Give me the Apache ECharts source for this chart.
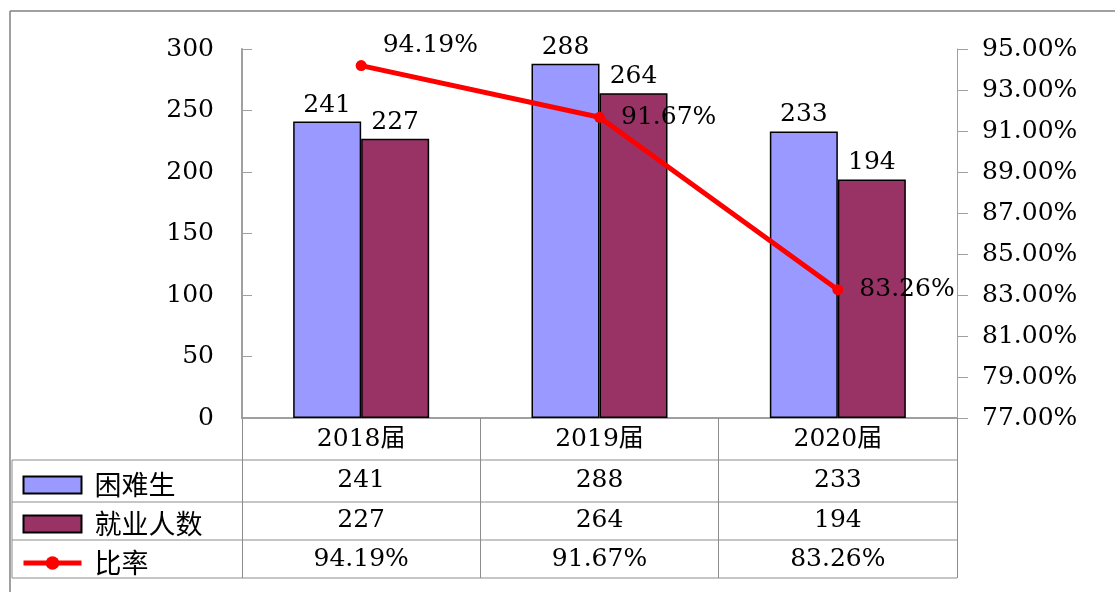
<!DOCTYPE html>
<html>
<head>
<meta charset="utf-8">
<script src="https://cdn.jsdelivr.net/npm/echarts@6/dist/echarts.min.js"></script>
<style>
	html, body { margin: 0; padding: 0; background: #fff; }
	#main { width: 1115px; height: 592px; }
</style>
</head>
<body>
<div id="main"></div>
<script>
/*类别*/
var years = ['2018届', '2019届', '2020届'];
/*困难生人数*/
var hardArr = [241, 288, 233];
/*就业人数*/
var jobArr = [227, 264, 194];
/*比率(%)*/
var rateArr = [94.19, 91.67, 83.26];
/*右轴刻度*/
var rateTicks = [77, 79, 81, 83, 85, 87, 89, 91, 93, 95];

var numFont = '"DejaVu Serif", "Noto Sans CJK SC", serif';
var cjkFont = '"Noto Sans CJK SC", sans-serif';
var gridLine = '#8c8c8c';

var myChart = echarts.init(document.getElementById('main'));

// 第一个点的标签在右上方
var rateData = [];
for(var i = 0; i < rateArr.length; i++) {
	var item = { value: rateArr[i] };
	if(i == 0) {
		item.label = { offset: [0, -20] };
	}
	rateData.push(item);
}

var option = {
	animation: false,
	backgroundColor: '#fff',
	grid: {
		left: 242,
		right: 158,
		top: 49,
		bottom: 174
	},
	legend: {
		orient: 'vertical',
		left: 21,
		top: 470,
		padding: 0,
		itemWidth: 58,
		itemHeight: 17,
		itemGap: 9,
		lineStyle: { width: 5 },
		textStyle: {
			fontFamily: cjkFont,
			fontSize: 27,
			lineHeight: 30,
			color: '#000',
			padding: [0, 0, 0, 8]
		},
		data: [
			{ name: '困难生', icon: 'rect' },
			{ name: '就业人数', icon: 'rect' },
			{ name: '比率' }
		]
	},
	xAxis: {
		type: 'category',
		data: years,
		axisLine: { lineStyle: { color: '#a0a0a0', width: 2 } },
		axisTick: {
			show: true,
			length: 160,
			lineStyle: { color: gridLine, width: 1 }
		},
		axisLabel: {
			margin: 0,
			formatter: function(val, idx) {
				return '{c|' + val + '}\n{a|' + hardArr[idx] + '}\n{b|' + jobArr[idx] + '}\n{d|' + rateArr[idx].toFixed(2) + '%}';
			},
			rich: {
				c: { fontFamily: numFont, fontSize: 25, lineHeight: 42, color: '#000' },
				a: { fontFamily: numFont, fontSize: 25, lineHeight: 40, color: '#000' },
				b: { fontFamily: numFont, fontSize: 25, lineHeight: 40, color: '#000' },
				d: { fontFamily: numFont, fontSize: 25, lineHeight: 38, color: '#000' }
			}
		}
	},
	yAxis: [{
		type: 'value',
		min: 0,
		max: 300,
		interval: 50,
		axisLine: { show: true, lineStyle: { color: '#a0a0a0', width: 2 } },
		axisTick: { show: true, inside: true, length: 10, lineStyle: { color: '#a0a0a0' } },
		axisLabel: { margin: 28, fontFamily: numFont, fontSize: 25, color: '#000' },
		splitLine: { show: false }
	}, {
		type: 'value',
		min: 77,
		max: 95,
		position: 'right',
		axisLine: { show: true, lineStyle: { color: '#a0a0a0', width: 1 } },
		axisTick: { show: true, length: 11, customValues: rateTicks, lineStyle: { color: '#a0a0a0' } },
		axisLabel: {
			margin: 25,
			customValues: rateTicks,
			fontFamily: numFont,
			fontSize: 25,
			color: '#000',
			formatter: function(v) {
				return v.toFixed(2) + '%';
			}
		},
		splitLine: { show: false }
	}],
	series: [{
		name: '困难生',
		type: 'bar',
		data: hardArr,
		barWidth: 68,
		barGap: '0%',
		itemStyle: { color: '#9999ff', borderColor: '#000', borderWidth: 1.5 },
		label: {
			show: true,
			position: 'top',
			distance: 4,
			fontFamily: numFont,
			fontSize: 25,
			color: '#000'
		}
	}, {
		name: '就业人数',
		type: 'bar',
		data: jobArr,
		barWidth: 68,
		barGap: '0%',
		itemStyle: { color: '#993366', borderColor: '#000', borderWidth: 1.5 },
		label: {
			show: true,
			position: 'top',
			distance: 4,
			fontFamily: numFont,
			fontSize: 25,
			color: '#000'
		}
	}, {
		name: '比率',
		type: 'line',
		yAxisIndex: 1,
		data: rateData,
		symbol: 'circle',
		symbolSize: 11,
		lineStyle: { color: '#ff0000', width: 5 },
		itemStyle: { color: '#ff0000' },
		label: {
			show: true,
			position: 'right',
			distance: 16,
			fontFamily: numFont,
			fontSize: 25,
			color: '#000',
			formatter: function(p) {
				return p.value.toFixed(2) + '%';
			}
		}
	}],
	/*外框与数据表线条*/
	graphic: [
		{ type: 'line', shape: { x1: 10, y1: 11, x2: 1115, y2: 11 }, style: { stroke: '#808080', lineWidth: 1.5 } },
		{ type: 'line', shape: { x1: 10, y1: 11, x2: 10, y2: 592 }, style: { stroke: '#808080', lineWidth: 1.5 } },
		{ type: 'line', shape: { x1: 12, y1: 460, x2: 957, y2: 460 }, style: { stroke: gridLine, lineWidth: 1 } },
		{ type: 'line', shape: { x1: 12, y1: 502, x2: 957, y2: 502 }, style: { stroke: gridLine, lineWidth: 1 } },
		{ type: 'line', shape: { x1: 12, y1: 540, x2: 957, y2: 540 }, style: { stroke: gridLine, lineWidth: 1 } },
		{ type: 'line', shape: { x1: 12, y1: 578, x2: 957, y2: 578 }, style: { stroke: gridLine, lineWidth: 1 } },
		{ type: 'line', shape: { x1: 12, y1: 460, x2: 12, y2: 578 }, style: { stroke: gridLine, lineWidth: 1 } }
	]
};
myChart.setOption(option);
</script>
</body>
</html>
